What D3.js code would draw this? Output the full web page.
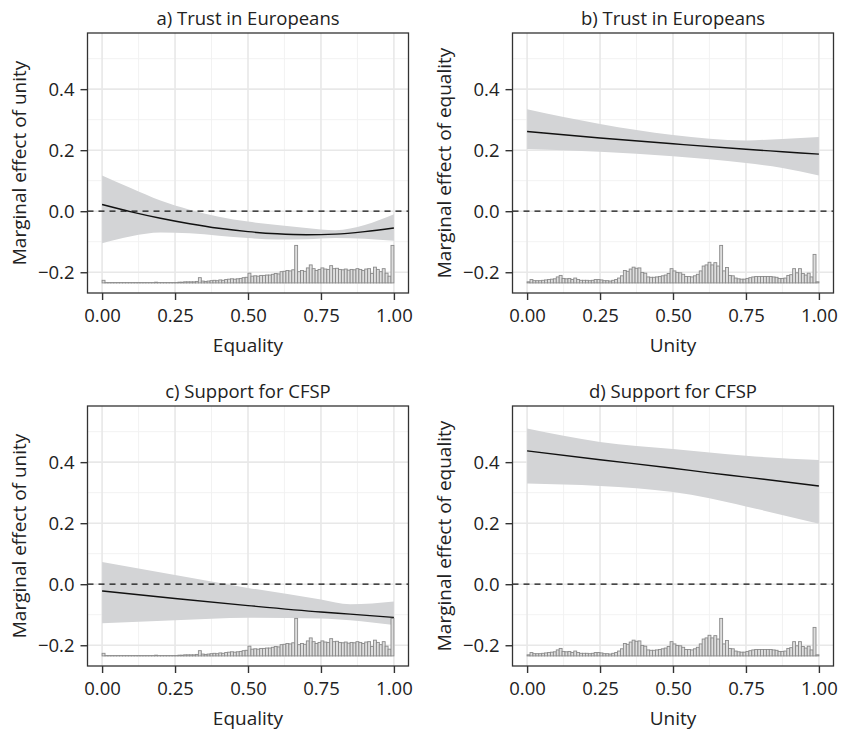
<!DOCTYPE html>
<html>
<head>
<meta charset="utf-8">
<script src="https://cdn.jsdelivr.net/npm/d3@7"></script>
<style>
  body { margin: 0; background: #fff; }
  svg text { font-family: "Open Sans", "Noto Sans", sans-serif; fill: #222; }
</style>
</head>
<body>
<svg id="chart" width="841" height="730"></svg>
<script>
// ---- Labels ----
const panelTitles = ["a) Trust in Europeans", "b) Trust in Europeans", "c) Support for CFSP", "d) Support for CFSP"];
const xTitles = ["Equality", "Unity", "Equality", "Unity"];
const yTitles = ["Marginal effect of unity", "Marginal effect of equality", "Marginal effect of unity", "Marginal effect of equality"];

// ---- Ticks ----
const xTicks = [0, 0.25, 0.5, 0.75, 1];
const xMinor = [0.125, 0.375, 0.625, 0.875];
const yTicks = [-0.2, 0, 0.2, 0.4];
const yMinor = [-0.1, 0.1, 0.3, 0.5];
const xDomain = [-0.05, 1.05];
const yDomain = [-0.268, 0.584];

// ---- a) Trust in Europeans: effect of unity by equality ----
const aX      = [0, 0.1, 0.2, 0.3, 0.4, 0.5, 0.6, 0.7, 0.8, 0.9, 1.0];
const aEffect = [0.022, -0.002, -0.023, -0.041, -0.056, -0.067, -0.074, -0.077, -0.075, -0.067, -0.055];
const aUpper  = [0.117, 0.075, 0.035, 0.005, -0.018, -0.034, -0.045, -0.055, -0.062, -0.045, -0.010];
const aLower  = [-0.105, -0.082, -0.070, -0.072, -0.080, -0.088, -0.093, -0.092, -0.088, -0.090, -0.097];

// ---- b) Trust in Europeans: effect of equality by unity ----
const bX      = [0, 0.25, 0.5, 0.75, 0.875, 1];
const bEffect = [0.261, 0.240, 0.221, 0.203, 0.195, 0.187];
const bUpper  = [0.334, 0.286, 0.250, 0.232, 0.237, 0.243];
const bLower  = [0.204, 0.195, 0.180, 0.158, 0.142, 0.117];

// ---- c) Support for CFSP: effect of unity by equality ----
const cX      = [0, 0.25, 0.5, 0.75, 0.85, 1];
const cEffect = [-0.022, -0.047, -0.070, -0.091, -0.098, -0.109];
const cUpper  = [0.073, 0.030, -0.012, -0.050, -0.066, -0.057];
const cLower  = [-0.128, -0.118, -0.110, -0.112, -0.118, -0.134];

// ---- d) Support for CFSP: effect of equality by unity ----
const dX      = [0, 0.25, 0.5, 0.625, 0.75, 1];
const dEffect = [0.437, 0.408, 0.380, 0.365, 0.351, 0.322];
const dUpper  = [0.510, 0.466, 0.443, 0.432, 0.421, 0.407];
const dLower  = [0.330, 0.322, 0.302, 0.282, 0.255, 0.198];

// ---- Distribution of the moderator (100 bins of width 0.01, % of tallest bin) ----
const histBinWidth = 0.01;
const histBase = -0.235;   // value at the bottom of the bars
const histSpan = 0.123;    // value height of the tallest bar
const equalityHist = [
  7, 1, 1, 1, 1, 1, 1, 1, 1, 1,
  1, 1, 1, 1, 1, 1, 1, 1, 2, 1,
  1, 1, 1, 1, 1, 1, 2, 2, 3, 3,
  3, 3, 4, 14, 5, 4, 5, 6, 7, 6,
  8, 7, 9, 10, 11, 10, 11, 12, 14, 15,
  26, 18, 19, 18, 20, 20, 21, 21, 23, 25,
  24, 30, 31, 33, 32, 35, 100, 30, 33, 31,
  40, 48, 38, 33, 36, 40, 37, 36, 46, 38,
  39, 36, 35, 37, 34, 36, 35, 38, 36, 33,
  37, 38, 25, 42, 36, 30, 38, 26, 18, 100
];
const unityHist = [
  3, 9, 6, 6, 6, 7, 8, 9, 10, 11,
  16, 20, 12, 11, 12, 9, 13, 9, 7, 7,
  7, 6, 7, 9, 9, 8, 6, 6, 5, 7,
  9, 13, 19, 33, 31, 37, 42, 39, 40, 28,
  26, 16, 15, 15, 16, 17, 19, 21, 25, 38,
  32, 28, 27, 23, 17, 17, 16, 19, 23, 32,
  45, 48, 55, 48, 54, 45, 100, 32, 41, 20,
  19, 13, 11, 10, 10, 12, 14, 16, 17, 17,
  17, 17, 17, 17, 16, 15, 12, 12, 13, 20,
  22, 38, 27, 38, 25, 21, 26, 16, 76, 3
];

// ---- Panel assembly ----
const panels = [
  { xs: aX, eff: aEffect, up: aUpper, lo: aLower, hist: equalityHist },
  { xs: bX, eff: bEffect, up: bUpper, lo: bLower, hist: unityHist },
  { xs: cX, eff: cEffect, up: cUpper, lo: cLower, hist: equalityHist },
  { xs: dX, eff: dEffect, up: dUpper, lo: dLower, hist: unityHist }
].map((p, i) => ({ ...p, title: panelTitles[i], xTitle: xTitles[i], yTitle: yTitles[i], col: i % 2, row: Math.floor(i / 2) }));

const svg = d3.select("#chart");
const colLeft = [87.5, 512.5];
const rowTop = [33, 406];
const plotW = 321, plotH = 260;

panels.forEach(p => {
  const left = colLeft[p.col], top = rowTop[p.row];
  const x = d3.scaleLinear().domain(xDomain).range([left, left + plotW]);
  const y = d3.scaleLinear().domain(yDomain).range([top + plotH, top]);
  const g = svg.append("g");

  // grid
  const grid = g.append("g");
  grid.selectAll(".xminor").data(xMinor).join("line")
    .attr("x1", d => x(d)).attr("x2", d => x(d)).attr("y1", top).attr("y2", top + plotH)
    .attr("stroke", "#f0f0f0").attr("stroke-width", 0.9);
  grid.selectAll(".yminor").data(yMinor).join("line")
    .attr("y1", d => y(d)).attr("y2", d => y(d)).attr("x1", left).attr("x2", left + plotW)
    .attr("stroke", "#f0f0f0").attr("stroke-width", 0.9);
  grid.selectAll(".xmajor").data(xTicks).join("line")
    .attr("x1", d => x(d)).attr("x2", d => x(d)).attr("y1", top).attr("y2", top + plotH)
    .attr("stroke", "#e8e8e8").attr("stroke-width", 1.6);
  grid.selectAll(".ymajor").data(yTicks).join("line")
    .attr("y1", d => y(d)).attr("y2", d => y(d)).attr("x1", left).attr("x2", left + plotW)
    .attr("stroke", "#e8e8e8").attr("stroke-width", 1.6);

  // confidence band
  const pts = p.xs.map((v, i) => ({ x: v, e: p.eff[i], u: p.up[i], l: p.lo[i] }));
  g.append("path").datum(pts)
    .attr("d", d3.area().x(d => x(d.x)).y0(d => y(d.l)).y1(d => y(d.u)).curve(d3.curveMonotoneX))
    .attr("fill", "#d3d4d6");

  // zero reference
  g.append("line")
    .attr("x1", left).attr("x2", left + plotW).attr("y1", y(0)).attr("y2", y(0))
    .attr("stroke", "#111").attr("stroke-width", 1.2).attr("stroke-dasharray", "6,5");

  // marginal effect line
  g.append("path").datum(pts)
    .attr("d", d3.line().x(d => x(d.x)).y(d => y(d.e)).curve(d3.curveMonotoneX))
    .attr("fill", "none").attr("stroke", "#111").attr("stroke-width", 1.4);

  // histogram of the moderator
  g.append("g").selectAll("rect").data(p.hist).join("rect")
    .attr("x", (d, i) => x(i * histBinWidth))
    .attr("width", (d, i) => x((i + 1) * histBinWidth) - x(i * histBinWidth))
    .attr("y", d => y(histBase + d / 100 * histSpan))
    .attr("height", d => y(histBase) - y(histBase + d / 100 * histSpan))
    .attr("fill", "#dedede").attr("stroke", "#8a8a8a").attr("stroke-width", 0.9);

  // panel border
  g.append("rect").attr("x", left).attr("y", top).attr("width", plotW).attr("height", plotH)
    .attr("fill", "none").attr("stroke", "#333").attr("stroke-width", 1.3);

  // axes
  const xAxis = g.append("g").attr("transform", `translate(0,${top + plotH})`)
    .call(d3.axisBottom(x).tickValues(xTicks).tickFormat(d3.format(".2f")).tickSize(7).tickPadding(9));
  const yAxis = g.append("g").attr("transform", `translate(${left},0)`)
    .call(d3.axisLeft(y).tickValues(yTicks).tickFormat(d3.format(".1f")).tickSize(7).tickPadding(6));
  [xAxis, yAxis].forEach(ax => {
    ax.select(".domain").remove();
    ax.selectAll(".tick line").attr("stroke", "#333").attr("stroke-width", 1.4);
    ax.selectAll(".tick text").attr("fill", "#262626")
      .style("font-family", '"Open Sans", "Noto Sans", sans-serif').style("font-size", "18.5px");
  });

  // titles
  g.append("text").attr("x", left + plotW / 2).attr("y", top - 8)
    .attr("text-anchor", "middle").style("font-size", "18.5px").text(p.title);
  g.append("text").attr("x", left + plotW / 2).attr("y", top + plotH + 58.5)
    .attr("text-anchor", "middle").style("font-size", "19px").text(p.xTitle);
  g.append("text")
    .attr("transform", `translate(${left - 62},${top + plotH / 2}) rotate(-90)`)
    .attr("text-anchor", "middle").style("font-size", "19px").text(p.yTitle);
});
</script>
</body>
</html>
